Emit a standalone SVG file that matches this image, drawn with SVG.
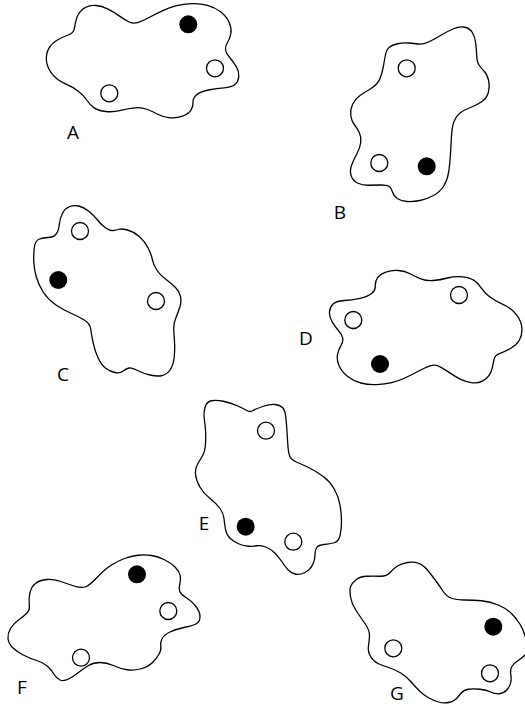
<svg xmlns="http://www.w3.org/2000/svg" width="525" height="710" viewBox="0 0 525 710">
<style>
.blob{fill:#fff;stroke:#000;stroke-width:1.3;stroke-linejoin:round}
.o{fill:#fff;stroke:#000;stroke-width:1.3}
.f{fill:#000}
.lbl{font-family:"Open Sans","Noto Sans",sans-serif;font-size:19px;fill:#000;text-anchor:middle}
</style>
<defs>
<path id="shapeA" d="M68.3,35 Q73.3,33.3 74.2,29.2 Q75,25 75.9,20.9 Q76.7,16.7 79.2,13 Q81.7,9.3 85.9,7.2 Q90,5 95.9,5.5 Q101.7,6 107.5,8.9 Q113.3,11.7 119.2,15.9 Q125,20 129.2,22 Q133.3,24 138.3,22.4 Q143.3,20.7 150,17 Q156.7,13.3 163.4,10.3 Q170,7.3 176.7,5.7 Q183.3,4 191.7,3.7 Q200,3.3 207.5,5.3 Q215,7.3 220.9,12 Q226.7,16.7 229.2,22.5 Q231.7,28.3 230.9,33.3 Q230,38.3 227.5,42.5 Q225,46.7 225.5,50 Q226,53.3 229.7,57.5 Q233.3,61.7 236.3,66.7 Q239.3,71.7 238.8,76.7 Q238.3,81.7 235,84.5 Q231.7,87.3 224.2,87.8 Q216.7,88.3 208.4,90 Q200,91.7 196.4,95 Q192.7,98.3 193,102.5 Q193.3,106.7 190.8,110.4 Q188.3,114 182.5,116.2 Q176.7,118.3 170,117.8 Q163.3,117.3 158.3,114.5 Q153.3,111.7 147.5,109.5 Q141.7,107.3 135,107.8 Q128.3,108.3 120.8,110.3 Q113.3,112.3 105.8,111.5 Q98.3,110.7 94.2,107.9 Q90,105 86.7,100 Q83.3,95 78.3,91.2 Q73.3,87.3 65,83.7 Q56.7,80 51.7,73.4 Q46.7,66.7 46.4,60 Q46,53.3 48.9,48.3 Q51.7,43.3 57.5,40 Q63.3,36.7 68.3,35 Z"/>
</defs>

<g id="A">
<use href="#shapeA" class="blob"/>
<circle class="f" cx="188.3" cy="24.3" r="9"/>
<circle class="o" cx="215" cy="68.3" r="8.5"/>
<circle class="o" cx="109.3" cy="93.3" r="8.5"/>
<text class="lbl" x="73" y="139">A</text>
</g>

<g id="B">
<path class="blob" d="M384.75,58.5 Q386,50 389,47.5 Q392,45 397.5,43.75 Q403,42.5 408.5,43 Q414,43.5 418.5,44 Q423,44.5 428,42.25 Q433,40 440,35.75 Q447,31.5 453.5,28.75 Q460,26 465,27.25 Q470,28.5 472.5,32.75 Q475,37 475.75,43.5 Q476.5,50 476.75,56 Q477,62 479,65 Q481,68 484,71 Q487,74 488.5,80 Q490,86 488.5,92 Q487,98 482,101.5 Q477,105 470.5,107.5 Q464,110 460,113 Q456,116 454,121.5 Q452,127 451.5,136 Q451,145 450.5,154 Q450,163 448.75,171.5 Q447.5,180 443.75,186 Q440,192 433.5,195.5 Q427,199 420,200.5 Q413,202 407,201.5 Q401,201 397.25,198.5 Q393.5,196 392.5,192 Q391.5,188 389.25,186.5 Q387,185 381,185 Q375,185 369,185.25 Q363,185.5 358,183.25 Q353,181 351.25,176 Q349.5,171 351.5,165.5 Q353.5,160 356.75,154 Q360,148 360.75,142.5 Q361.5,137 359.25,132.5 Q357,128 354.25,124.5 Q351.5,121 350.75,115.5 Q350,110 352.5,104.5 Q355,99 360,95.5 Q365,92 369.5,89.5 Q374,87 377,83.5 Q380,80 381.75,73.5 Q383.5,67 384.75,58.5 Z"/>
<circle class="o" cx="406.7" cy="68.3" r="8.5"/>
<circle class="o" cx="379.3" cy="163" r="8.5"/>
<circle class="f" cx="426.7" cy="166.3" r="9"/>
<text class="lbl" x="340" y="219">B</text>
</g>

<g id="C">
<path class="blob" d="M33.75,261.75 Q33.5,255 34.25,248 Q35,241 39,239.25 Q43,237.5 48,237.5 Q53,237.5 55.75,234.5 Q58.5,231.5 59.25,224.75 Q60,218 62.5,213.25 Q65,208.5 69.25,206.75 Q73.5,205 78.5,206 Q83.5,207 88.5,211 Q93.5,215 97.5,220 Q101.5,225 105.75,228 Q110,231 113.25,230.5 Q116.5,230 119,229.25 Q121.5,228.5 127.5,230 Q133.5,231.5 139.25,236.5 Q145,241.5 148.25,248.25 Q151.5,255 152.5,260 Q153.5,265 156.75,270 Q160,275 165.75,279.25 Q171.5,283.5 175.5,287.5 Q179.5,291.5 180.5,296.5 Q181.5,301.5 180,306.5 Q178.5,311.5 176,317.5 Q173.5,323.5 173.75,329.25 Q174,335 174.5,341.75 Q175,348.5 174.25,356.75 Q173.5,365 170,370 Q166.5,375 161.5,375.75 Q156.5,376.5 150,375 Q143.5,373.5 137.5,370.5 Q131.5,367.5 129,368 Q126.5,368.5 123.25,371 Q120,373.5 115,372.5 Q110,371.5 105.75,368.25 Q101.5,365 98.25,358.25 Q95,351.5 93.25,343.25 Q91.5,335 90.75,329.25 Q90,323.5 84.25,320 Q78.5,316.5 71,313.25 Q63.5,310 56,305 Q48.5,300 43.5,292.5 Q38.5,285 36.25,276.75 Q34,268.5 33.75,261.75 Z"/>
<circle class="o" cx="80" cy="231" r="8.5"/>
<circle class="f" cx="58.3" cy="280" r="9"/>
<circle class="o" cx="156" cy="301" r="8.5"/>
<text class="lbl" x="63" y="381">C</text>
</g>

<g id="D">
<use href="#shapeA" class="blob" transform="rotate(180 284.15 194.15)"/>
<circle class="f" cx="380" cy="364" r="9"/>
<circle class="o" cx="353.3" cy="320" r="8.5"/>
<circle class="o" cx="459" cy="295" r="8.5"/>
<text class="lbl" x="306" y="345">D</text>
</g>

<g id="E">
<path class="blob" d="M205,407.5 Q206.5,401.5 211.5,400.75 Q216.5,400 223.25,401.25 Q230,402.5 236.75,405.5 Q243.5,408.5 246.75,410.5 Q250,412.5 253.25,410.5 Q256.5,408.5 263.25,406.25 Q270,404 275,404.5 Q280,405 282.5,407.5 Q285,410 285.75,416.75 Q286.5,423.5 287,431.75 Q287.5,440 288,446.75 Q288.5,453.5 290,456.75 Q291.5,460 297.5,462.5 Q303.5,465 310,468.25 Q316.5,471.5 323.25,476.5 Q330,481.5 334.25,489 Q338.5,496.5 340,505 Q341.5,513.5 341.5,521.75 Q341.5,530 340,535.75 Q338.5,541.5 334.25,542.75 Q330,544 324.25,544.5 Q318.5,545 316.75,547.5 Q315,550 315,555 Q315,560 312.5,565 Q310,570 305,572.5 Q300,575 295.75,574.25 Q291.5,573.5 288.25,570 Q285,566.5 281.75,561.5 Q278.5,556.5 274.25,552.5 Q270,548.5 265,546.75 Q260,545 256.75,545.75 Q253.5,546.5 248.5,546.25 Q243.5,546 238.5,543.75 Q233.5,541.5 230,538.25 Q226.5,535 225.5,529.25 Q224.5,523.5 224,518.5 Q223.5,513.5 220,508.5 Q216.5,503.5 210,498.5 Q203.5,493.5 199.75,486.75 Q196,480 195.5,474.25 Q195,468.5 197.5,464.25 Q200,460 202.5,455.75 Q205,451.5 205.5,444 Q206,436.5 205.5,430 Q205,423.5 204.25,418.5 Q203.5,413.5 205,407.5 Z"/>
<circle class="o" cx="266" cy="430.7" r="8.5"/>
<circle class="f" cx="245.7" cy="526.7" r="9"/>
<circle class="o" cx="293.3" cy="541.7" r="8.5"/>
<text class="lbl" x="204" y="530">E</text>
</g>

<g id="F">
<path class="blob" d="M26.75,613.25 Q30,610 29.25,604.25 Q28.5,598.5 30,592.5 Q31.5,586.5 35.75,583.25 Q40,580 46.75,579.5 Q53.5,579 60,581.25 Q66.5,583.5 74,586 Q81.5,588.5 85.75,586.75 Q90,585 97.5,577 Q105,569 111.5,565 Q118,561 124.5,558.5 Q131,556 138,555.25 Q145,554.5 151.5,555.5 Q158,556.5 164.5,559.75 Q171,563 175.25,567.25 Q179.5,571.5 180.25,575.75 Q181,580 179.75,584.25 Q178.5,588.5 179.75,591.5 Q181,594.5 186,597.5 Q191,600.5 195.5,606 Q200,611.5 200,616.5 Q200,621.5 196.75,623.5 Q193.5,625.5 185,627.25 Q176.5,629 170,632 Q163.5,635 161.75,639.25 Q160,643.5 160.75,646.75 Q161.5,650 159,654.25 Q156.5,658.5 152.5,662.5 Q148.5,666.5 141,668.75 Q133.5,671 126.75,669.75 Q120,668.5 113.25,665.5 Q106.5,662.5 100,662.5 Q93.5,662.5 88.5,665.5 Q83.5,668.5 78.5,672.5 Q73.5,676.5 68.5,679 Q63.5,681.5 60,680 Q56.5,678.5 54,674.25 Q51.5,670 47.5,666.25 Q43.5,662.5 36.75,660.5 Q30,658.5 23.25,655 Q16.5,651.5 12.5,647.5 Q8.5,643.5 8,638.5 Q7.5,633.5 10.5,628.5 Q13.5,623.5 18.5,620 Q23.5,616.5 26.75,613.25 Z"/>
<circle class="f" cx="137" cy="574.3" r="9"/>
<circle class="o" cx="168.3" cy="611" r="8.5"/>
<circle class="o" cx="81" cy="657.7" r="8.5"/>
<text class="lbl" x="22" y="694">F</text>
</g>

<g id="G">
<path class="blob" d="M350.5,586.75 Q351.5,583.5 355.75,580 Q360,576.5 366.75,576.25 Q373.5,576 380,576.25 Q386.5,576.5 390,572.5 Q393.5,568.5 397.5,566 Q401.5,563.5 407.5,562.5 Q413.5,561.5 418.5,563.25 Q423.5,565 427.5,570 Q431.5,575 435.75,580.75 Q440,586.5 443.25,591.5 Q446.5,596.5 451.5,598.25 Q456.5,600 465,600 Q473.5,600 481.75,600.75 Q490,601.5 498.25,605 Q506.5,608.5 511.5,613.5 Q516.5,618.5 520,624.25 Q523.5,630 525.25,636.5 Q527,643 527.5,647.5 Q528,652 524.75,655.25 Q521.5,658.5 517.5,661 Q513.5,663.5 511.75,666.75 Q510,670 510.75,674.25 Q511.5,678.5 510.75,682.5 Q510,686.5 506.75,690 Q503.5,693.5 499.25,693.75 Q495,694 490.75,692 Q486.5,690 480,689.25 Q473.5,688.5 468.5,689.25 Q463.5,690 461,693.25 Q458.5,696.5 456,699 Q453.5,701.5 448.5,702.5 Q443.5,703.5 438.5,702 Q433.5,700.5 428.5,697.75 Q423.5,695 419.25,690.75 Q415,686.5 410.75,681.5 Q406.5,676.5 400.75,673 Q395,669.5 389.25,667.75 Q383.5,666 378.5,663.75 Q373.5,661.5 370.5,656.5 Q367.5,651.5 368.5,645.75 Q369.5,640 369.5,635 Q369.5,630 364.75,623.25 Q360,616.5 355.75,610 Q351.5,603.5 350.5,596.75 Q349.5,590 350.5,586.75 Z"/>
<circle class="f" cx="493.3" cy="626.7" r="9"/>
<circle class="o" cx="393.3" cy="648.3" r="8.5"/>
<circle class="o" cx="490" cy="673.3" r="8.5"/>
<text class="lbl" x="397" y="700">G</text>
</g>
</svg>
